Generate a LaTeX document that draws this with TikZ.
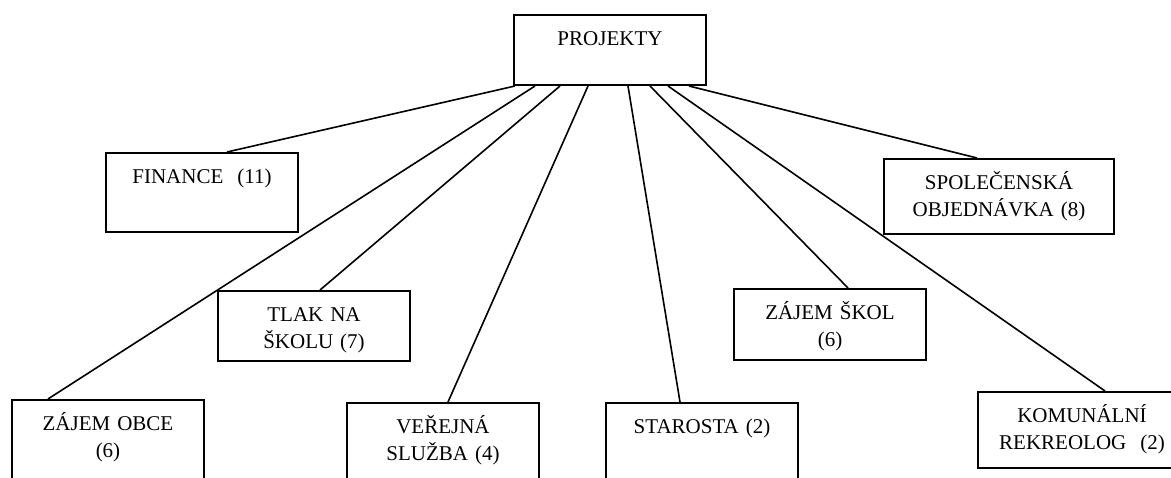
\documentclass[tikz,border=0pt]{standalone}
\usepackage{fontspec}
\setmainfont{Liberation Serif}
\begin{document}
\begin{tikzpicture}[x=1pt,y=-1pt]
	% Styles
	\tikzstyle{lien}=[-,line width=1.6pt]
	\tikzstyle{boite}=[draw,line width=2pt,anchor=north west,inner xsep=0pt,inner ysep=0pt,text width=192pt,align=center,text height=31pt,font={\fontsize{21}{27}\selectfont}]
	% Cadre
	\useasboundingbox (0,0) rectangle (1171,478);
	\clip (0,0) rectangle (1171,478);
	% Noeuds
	\node[boite,text depth=39pt] (P) at (513,14) {PROJEKTY};
	\node[boite,text depth=48pt] (F) at (105,152) {FINANCE\ \ (11)};
	\node[boite,text depth=44pt,text width=230pt] (S) at (883,158) {SPOLEČENSKÁ\\OBJEDNÁVKA (8)};
	\node[boite,text depth=39pt] (T) at (217,290) {TLAK NA\\ŠKOLU (7)};
	\node[boite,text depth=40pt] (ZS) at (733,288) {ZÁJEM ŠKOL\\(6)};
	\node[boite,text depth=45pt,text width=208pt] (K) at (977,391) {KOMUNÁLNÍ\\REKREOLOG\ \ (2)};
	\node[boite,text depth=100pt] (ZO) at (11,399) {ZÁJEM OBCE\\(6)};
	\node[boite,text depth=100pt] (V) at (346,402) {VEŘEJNÁ\\SLUŽBA (4)};
	\node[boite,text depth=100pt] (St) at (605,402) {STAROSTA (2)};
	% Arcs
	\draw[lien] ([xshift=2pt]P.south west) -- ([xshift=122pt]F.north west);
	\draw[lien] ([xshift=22pt]P.south west) -- ([xshift=37pt]ZO.north west);
	\draw[lien] ([xshift=47pt]P.south west) -- ([xshift=103pt]T.north west);
	\draw[lien] ([xshift=75pt]P.south west) -- ([xshift=102pt]V.north west);
	\draw[lien] ([xshift=115pt]P.south west) -- ([xshift=75pt]St.north west);
	\draw[lien] ([xshift=137pt]P.south west) -- ([xshift=115pt]ZS.north west);
	\draw[lien] ([xshift=155pt]P.south west) -- ([xshift=128pt]K.north west);
	\draw[lien] ([xshift=176pt]P.south west) -- ([xshift=94pt]S.north west);
\end{tikzpicture}
\end{document}
